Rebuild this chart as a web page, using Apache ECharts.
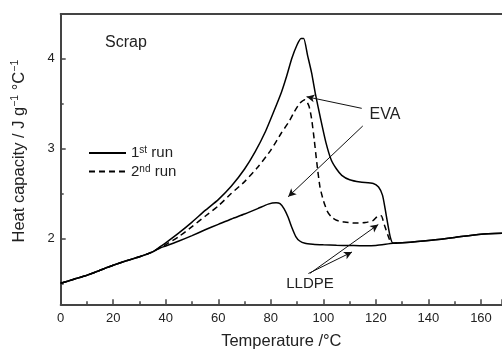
<!DOCTYPE html>
<html>
<head>
<meta charset="utf-8">
<script src="https://cdn.jsdelivr.net/npm/echarts@6/dist/echarts.min.js"></script>
<style>html,body{margin:0;padding:0;background:#fff;}#c{width:502px;height:350px;}</style>
</head>
<body>
<div id="c"></div>
<script>
// Shared low-temperature part (all curves coincide)
const commonT  = [0, 5, 10, 15, 20, 25, 30, 35];
const commonCp = [1.50, 1.545, 1.59, 1.645, 1.70, 1.75, 1.795, 1.85];

// 1st run (solid, large EVA peak)
const run1T  = [38, 40, 45, 50, 55, 60, 65, 70, 74, 78, 81, 84, 86, 88, 90, 91.5, 92.5, 94, 95.5, 97, 99, 101, 103, 105, 107, 110, 114, 119, 121, 122.5, 123.5, 124.5, 125.5, 126.5, 130, 140, 150, 160, 168];
const run1Cp = [1.91, 1.95, 2.06, 2.18, 2.31, 2.43, 2.58, 2.77, 2.96, 3.19, 3.40, 3.62, 3.80, 4.00, 4.15, 4.22, 4.22, 4.03, 3.84, 3.60, 3.32, 3.06, 2.87, 2.77, 2.70, 2.65, 2.625, 2.61, 2.57, 2.48, 2.33, 2.16, 2.01, 1.945, 1.95, 1.975, 2.01, 2.045, 2.055];

// 2nd run (dashed)
const run2T  = [38, 40, 45, 50, 55, 60, 65, 70, 75, 80, 84, 87, 89, 91, 93, 94.5, 95.5, 96.5, 97.5, 98.7, 100, 101.5, 103, 105, 108, 112, 116, 119, 121, 122, 123.2, 124.5, 125.5, 126.5, 128];
const run2Cp = [1.90, 1.93, 2.02, 2.13, 2.245, 2.36, 2.50, 2.63, 2.79, 2.98, 3.17, 3.30, 3.41, 3.50, 3.54, 3.47, 3.33, 3.10, 2.84, 2.57, 2.42, 2.30, 2.24, 2.20, 2.18, 2.17, 2.175, 2.20, 2.25, 2.25, 2.15, 2.04, 1.965, 1.945, 1.947];

// lower solid curve (LLDPE-dominated trace)
const run3T  = [38, 40, 45, 50, 55, 60, 65, 70, 75, 79, 82, 83.5, 85, 86.5, 88, 89.5, 91, 93, 96, 100, 105, 110, 115, 120, 126.5, 130, 140, 150, 160, 168];
const run3Cp = [1.895, 1.915, 1.97, 2.03, 2.095, 2.155, 2.215, 2.27, 2.33, 2.38, 2.395, 2.385, 2.33, 2.24, 2.12, 2.02, 1.97, 1.945, 1.935, 1.928, 1.922, 1.92, 1.917, 1.92, 1.945, 1.95, 1.975, 2.01, 2.045, 2.055];

// axis ticks
const xTickInterval = 20;
const yLabelValues = [2, 3, 4];
const yMinorValues = [1.5, 2.5, 3.5];

// annotations (data coordinates)
const arrows = [
  [[114.6, 3.444], [93.6, 3.573]],
  [[115.0, 3.248], [86.6, 2.462]],
  [[94.9, 1.611], [120.9, 2.153]],
  [[94.3, 1.609], [110.9, 1.848]]
];
const texts = [
  {t: 'Scrap', at: [16.9, 4.17], size: 16, align: 'left'},
  {t: 'EVA', at: [117.6, 3.37], size: 16, align: 'left'},
  {t: 'LLDPE', at: [94.9, 1.49], size: 15, align: 'center'}
];

function zip(a, b) { return a.map((v, i) => [v, b[i]]); }
const s1 = zip(commonT.concat(run1T), commonCp.concat(run1Cp));
const s2 = zip(commonT.concat(run2T), commonCp.concat(run2Cp));
const s3 = zip(commonT.concat(run3T), commonCp.concat(run3Cp));

const FONT = '"Liberation Sans", Arial, sans-serif';
const TXT = '#222';
const AX = '#444';
const chart = echarts.init(document.getElementById('c'), null, {renderer: 'canvas'});
const supRich = {sup: {fontSize: 10.5, fontFamily: FONT, color: TXT, verticalAlign: 'top', lineHeight: 19}};

chart.setOption({
  animation: false,
  backgroundColor: '#fff',
  grid: {left: 60.7, right: 0, top: 14, bottom: 45.7, containLabel: false, outerBoundsMode: 'none'},
  legend: {
    orient: 'vertical', left: 88, top: 145.5, padding: 0, itemWidth: 37, itemHeight: 14, itemGap: 3.5,
    data: ['1st run', '2nd run'],
    itemStyle: {opacity: 0},
    textStyle: {fontFamily: FONT, fontSize: 15, color: TXT, rich: {sup: {fontSize: 10, fontFamily: FONT, color: TXT, verticalAlign: 'top', lineHeight: 15}, n: {fontSize: 15, fontFamily: FONT, color: TXT, lineHeight: 15}}},
    formatter: n => n === '1st run' ? '{n|1}{sup|st}{n| run}' : '{n|2}{sup|nd}{n| run}'
  },
  xAxis: [{
    type: 'value', min: 0, max: 168, interval: xTickInterval,
    name: 'Temperature /°C', nameLocation: 'middle', nameGap: 29,
    nameTextStyle: {fontFamily: FONT, fontSize: 16.5, color: TXT},
    axisLine: {show: true, lineStyle: {color: AX, width: 2}},
    axisTick: {show: true, inside: true, length: 5, lineStyle: {color: AX, width: 1.5}},
    minorTick: {show: true, splitNumber: 2, length: 3, lineStyle: {color: AX, width: 1.5}},
    axisLabel: {fontFamily: FONT, fontSize: 13, color: TXT, margin: 8},
    splitLine: {show: false}
  }, {
    type: 'value', position: 'top', min: 0, max: 168,
    axisLine: {show: true, onZero: false, lineStyle: {color: AX, width: 2}},
    axisTick: {show: false}, axisLabel: {show: false}, splitLine: {show: false}
  }],
  yAxis: [{
    type: 'value', min: 1.267, max: 4.492,
    name: 'Heat capacity / J g{sup|−1} °C{sup|−1}', nameLocation: 'middle', nameGap: 32, nameRotate: 90,
    nameTextStyle: {fontFamily: FONT, fontSize: 16.5, color: TXT, padding: [0, 0, 0, 16], rich: supRich},
    axisLine: {show: true, lineStyle: {color: AX, width: 2}},
    axisTick: {show: true, inside: true, length: 5, customValues: yLabelValues, lineStyle: {color: AX, width: 1.5}},
    axisLabel: {fontFamily: FONT, fontSize: 13, color: TXT, margin: 6, customValues: yLabelValues},
    splitLine: {show: false}
  }, {
    type: 'value', min: 1.267, max: 4.492, position: 'left',
    axisLine: {show: false},
    axisTick: {show: true, inside: true, length: 3, customValues: yMinorValues, lineStyle: {color: AX, width: 1.5}},
    axisLabel: {show: false}, splitLine: {show: false}
  }],
  series: [{
    name: '1st run', type: 'line', data: s1, showSymbol: false, symbol: 'none', smooth: 0.2,
    lineStyle: {color: '#000', width: 1.5, type: 'solid'}, itemStyle: {color: 'rgba(0,0,0,0)'}
  }, {
    name: '2nd run', type: 'line', data: s2, showSymbol: false, symbol: 'none', smooth: 0.2,
    lineStyle: {color: '#000', width: 1.5, type: [6, 4]}, itemStyle: {color: 'rgba(0,0,0,0)'}
  }, {
    name: 'trace', type: 'line', data: s3, showSymbol: false, symbol: 'none', smooth: 0.2,
    lineStyle: {color: '#000', width: 1.5, type: 'solid'}, itemStyle: {color: '#000'},
    markLine: {
      silent: true, symbol: ['none', 'arrow'], symbolSize: [6, 8],
      label: {show: false},
      lineStyle: {color: '#111', width: 1, type: 'solid'},
      emphasis: {disabled: true},
      data: arrows.map(a => [{coord: a[0]}, {coord: a[1]}])
    }
  }]
});

chart.setOption({
  graphic: texts.map(o => {
    const p = chart.convertToPixel({gridIndex: 0}, o.at);
    return {type: 'text', x: p[0], y: p[1], style: {text: o.t, fontFamily: FONT, fontSize: o.size, fill: TXT, align: o.align, verticalAlign: 'middle'}};
  })
});
</script>
</body>
</html>
